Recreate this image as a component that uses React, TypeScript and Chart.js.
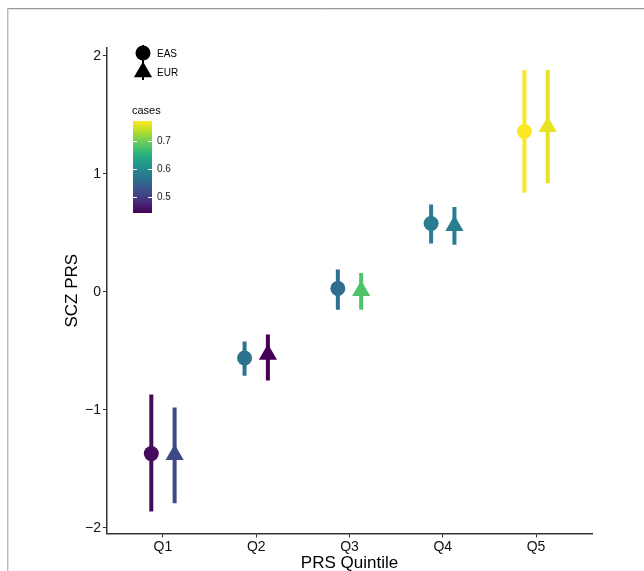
import React, { useEffect, useRef } from 'react';
import { Chart, registerables } from 'chart.js';

Chart.register(...registerables);

// ---- data ----
const categories = ['Q1', 'Q2', 'Q3', 'Q4', 'Q5'];
const easMean = [-1.37, -0.56, 0.03, 0.58, 1.36];
const easLow = [-1.86, -0.71, -0.15, 0.41, 0.84];
const easHigh = [-0.87, -0.42, 0.19, 0.74, 1.88];
const easCases = [0.452, 0.567, 0.56, 0.577, 0.771];
const eurMean = [-1.38, -0.53, 0.01, 0.56, 1.4];
const eurLow = [-1.79, -0.75, -0.15, 0.4, 0.92];
const eurHigh = [-0.98, -0.36, 0.16, 0.72, 1.88];
const eurCases = [0.514, 0.442, 0.679, 0.58, 0.758];
const yTicks = [-2, -1, 0, 1, 2];
const casesTicks = [0.5, 0.6, 0.7];
const casesMin = 0.442;
const casesMax = 0.771;

const FONT = "'Liberation Sans', Arial, Helvetica, sans-serif";

const viridisStops = [
  '#440154', '#482475', '#414487', '#355f8d', '#2a788e', '#21918c',
  '#22a884', '#44bf70', '#7ad151', '#bddf26', '#fde725',
];

function hexToRgb(h: string) {
  const n = parseInt(h.slice(1), 16);
  return [(n >> 16) & 255, (n >> 8) & 255, n & 255];
}

function viridis(v: number) {
  let t = (v - casesMin) / (casesMax - casesMin);
  t = Math.max(0, Math.min(1, t));
  const pos = t * (viridisStops.length - 1);
  const i = Math.min(Math.floor(pos), viridisStops.length - 2);
  const f = pos - i;
  const a = hexToRgb(viridisStops[i]);
  const b = hexToRgb(viridisStops[i + 1]);
  const c = a.map((x, k) => Math.round(x + (b[k] - x) * f));
  return `rgb(${c[0]},${c[1]},${c[2]})`;
}

const dodge = 0.125;

const framePlugin = {
  id: 'frameAndLegend',
  beforeDraw(chart: any) {
    const ctx = chart.ctx;
    ctx.save();
    ctx.fillStyle = '#ffffff';
    ctx.fillRect(0, 0, chart.width, chart.height);
    ctx.lineWidth = 1;
    ctx.strokeStyle = '#9a9a9a';
    ctx.beginPath();
    ctx.moveTo(7, 8.5);
    ctx.lineTo(chart.width, 8.5);
    ctx.stroke();
    ctx.strokeStyle = '#b8b8b8';
    ctx.beginPath();
    ctx.moveTo(7.5, 8);
    ctx.lineTo(7.5, chart.height);
    ctx.stroke();
    ctx.strokeStyle = '#e2e2e2';
    ctx.beginPath();
    ctx.moveTo(8, 9.5);
    ctx.lineTo(chart.width, 9.5);
    ctx.moveTo(8.5, 9);
    ctx.lineTo(8.5, chart.height);
    ctx.stroke();
    ctx.restore();
  },
  afterDraw(chart: any) {
    const ctx = chart.ctx;
    ctx.save();
    // shape legend
    const kx = 143;
    ctx.strokeStyle = '#000';
    ctx.lineWidth = 2;
    ctx.beginPath();
    ctx.moveTo(kx, 45);
    ctx.lineTo(kx, 80);
    ctx.stroke();
    ctx.fillStyle = '#000';
    ctx.beginPath();
    ctx.arc(kx, 53, 7.5, 0, Math.PI * 2);
    ctx.fill();
    const r = 10.5;
    const ty = 72;
    ctx.beginPath();
    for (let k = 0; k < 3; k++) {
      const ang = (k * 2 * Math.PI) / 3;
      const px = kx + Math.sin(ang) * r;
      const py = ty - Math.cos(ang) * r;
      if (k === 0) ctx.moveTo(px, py);
      else ctx.lineTo(px, py);
    }
    ctx.closePath();
    ctx.fill();
    ctx.font = `10px ${FONT}`;
    ctx.textBaseline = 'middle';
    ctx.textAlign = 'left';
    ctx.fillStyle = '#000';
    ctx.fillText('EAS', 157, 54);
    ctx.fillText('EUR', 157, 73);

    // colour bar legend
    ctx.font = `11px ${FONT}`;
    ctx.fillText('cases', 132, 111);
    const bx = 133, bw = 19, bTop = 121, bBot = 213;
    const grad = ctx.createLinearGradient(0, bBot, 0, bTop);
    viridisStops.forEach((c, i) => grad.addColorStop(i / (viridisStops.length - 1), c));
    ctx.fillStyle = grad;
    ctx.fillRect(bx, bTop, bw, bBot - bTop);
    ctx.strokeStyle = '#ffffff';
    ctx.lineWidth = 1;
    ctx.font = `10px ${FONT}`;
    casesTicks.forEach((v) => {
      const y = Math.round(bBot - ((v - casesMin) / (casesMax - casesMin)) * (bBot - bTop)) + 0.5;
      ctx.beginPath();
      ctx.moveTo(bx, y);
      ctx.lineTo(bx + 4, y);
      ctx.moveTo(bx + bw - 4, y);
      ctx.lineTo(bx + bw, y);
      ctx.stroke();
      ctx.fillStyle = '#1a1a1a';
      ctx.fillText(v.toFixed(1), 157, y);
    });
    ctx.restore();
  },
};

export default function App() {
  const ref = useRef<HTMLCanvasElement | null>(null);

  useEffect(() => {
    if (!ref.current) return;
    const easColors = easCases.map(viridis);
    const eurColors = eurCases.map(viridis);

    const errorSets: any[] = [];
    categories.forEach((_, i) => {
      errorSets.push({
        label: 'eas-err-' + i,
        data: [
          { x: i + 1 - dodge, y: easLow[i] },
          { x: i + 1 - dodge, y: easHigh[i] },
        ],
        showLine: true,
        borderColor: easColors[i],
        borderWidth: 4,
        borderCapStyle: 'butt',
        pointRadius: 0,
        order: 2,
      });
      errorSets.push({
        label: 'eur-err-' + i,
        data: [
          { x: i + 1 + dodge, y: eurLow[i] },
          { x: i + 1 + dodge, y: eurHigh[i] },
        ],
        showLine: true,
        borderColor: eurColors[i],
        borderWidth: 4,
        borderCapStyle: 'butt',
        pointRadius: 0,
        order: 2,
      });
    });

    const chart = new Chart(ref.current, {
      type: 'scatter',
      data: {
        datasets: [
          {
            label: 'EAS',
            data: categories.map((_, i) => ({ x: i + 1 - dodge, y: easMean[i] })),
            pointStyle: 'circle',
            pointRadius: 7.5,
            pointBackgroundColor: easColors,
            pointBorderColor: easColors,
            pointBorderWidth: 0,
            order: 0,
          },
          {
            label: 'EUR',
            data: categories.map((_, i) => ({ x: i + 1 + dodge, y: eurMean[i] })),
            pointStyle: 'triangle',
            pointRadius: 10.5,
            pointBackgroundColor: eurColors,
            pointBorderColor: eurColors,
            pointBorderWidth: 0,
            order: 0,
          },
          ...errorSets,
        ],
      },
      options: {
        animation: false,
        responsive: false,
        devicePixelRatio: 1,
        events: [],
        layout: { padding: { top: 48, right: 52, left: 0, bottom: 0 } },
        plugins: { legend: { display: false }, tooltip: { enabled: false } },
        scales: {
          x: {
            type: 'linear',
            min: 0.4,
            max: 5.6,
            afterBuildTicks: (a: any) => {
              a.ticks = categories.map((_, i) => ({ value: i + 1 }));
            },
            afterFit: (a: any) => {
              a.height = 37.5;
            },
            ticks: {
              callback: (v: any) => categories[Math.round(Number(v)) - 1] ?? '',
              color: '#111',
              font: { family: FONT, size: 14 },
              padding: 1,
              autoSkip: false,
              maxRotation: 0,
            },
            grid: {
              drawOnChartArea: false,
              drawTicks: true,
              tickLength: 4,
              tickColor: '#333',
              tickWidth: 1,
            },
            border: { display: true, color: '#333', width: 1.5 },
            title: {
              display: true,
              text: 'PRS Quintile',
              color: '#000',
              font: { family: FONT, size: 17, lineHeight: 1 },
              padding: { top: 0, bottom: -1 },
            },
          },
          y: {
            type: 'linear',
            min: -2.047,
            max: 2.067,
            afterBuildTicks: (a: any) => {
              a.ticks = yTicks.map((v) => ({ value: v }));
            },
            afterFit: (a: any) => {
              a.width = 107;
            },
            ticks: {
              callback: (v: any) => (Number(v) < 0 ? '\u2212' + Math.abs(Number(v)) : String(v)),
              color: '#111',
              font: { family: FONT, size: 14 },
              padding: 2,
            },
            grid: {
              drawOnChartArea: false,
              drawTicks: true,
              tickLength: 4,
              tickColor: '#333',
              tickWidth: 1,
            },
            border: { display: true, color: '#333', width: 1.5 },
            title: {
              display: true,
              text: 'SCZ PRS',
              color: '#000',
              font: { family: FONT, size: 17, lineHeight: 1.2 },
              padding: { top: 61.8, bottom: 0 },
            },
          },
        },
      },
      plugins: [framePlugin],
    } as any);

    return () => chart.destroy();
  }, []);

  return (
    <canvas
      ref={ref}
      width={644}
      height={571}
      style={{ position: 'absolute', left: 0, top: 0, width: 644, height: 571 }}
    />
  );
}
